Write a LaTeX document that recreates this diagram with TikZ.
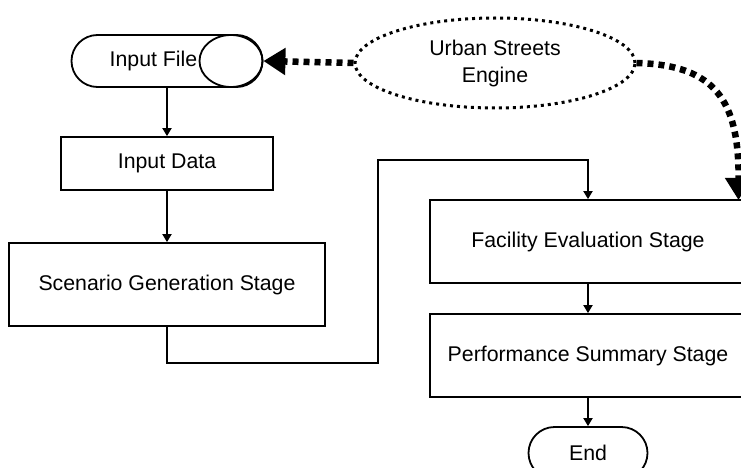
\documentclass[tikz,border=0pt]{standalone}
\usepackage{fontspec}
\setmainfont{Liberation Sans}
\usetikzlibrary{shapes.misc,shapes.geometric,arrows.meta}

\begin{document}
\begin{tikzpicture}[x=1pt,y=-1pt,
  every node/.style={font=\fontsize{21.3}{27}\selectfont, inner sep=0pt},
  procbox/.style={draw, line width=1.8pt, rectangle},
  terminal/.style={draw, line width=1.8pt, rounded rectangle, minimum height=52pt},
  flow/.style={line width=1.8pt, -{Triangle[length=8pt,width=9pt]}},
  link/.style={line width=6.5pt, dash pattern=on 6pt off 5pt, -{Triangle[length=22pt,width=26pt]}},
  enginebox/.style={draw, ellipse, line width=3pt, dash pattern=on 3pt off 4pt,
    minimum width=280pt, minimum height=90pt, align=center}
]
\useasboundingbox (0,0) rectangle (741,468);
\clip (0,0) rectangle (741,468);
\fill[white] (0,0) rectangle (741,468);

% left column
\node[terminal, minimum width=191pt] (infile) at (167,61) {};
\node[draw, line width=1.8pt, ellipse, minimum width=63pt, minimum height=52pt] (infileend) at (231,61) {};
\node (infiletext) at (153.5,61) {Input File};
\node[procbox, minimum width=212pt, minimum height=53pt] (indata) at (167,163.5) {Input Data};
\node[procbox, minimum width=316pt, minimum height=83pt] (scen) at (167,284.5) {Scenario Generation Stage};

% right column
\node[procbox, minimum width=316pt, minimum height=83pt] (facil) at (588,241.5) {Facility Evaluation Stage};
\node[procbox, minimum width=316pt, minimum height=83pt] (perf) at (588,355.5) {Performance Summary Stage};
\node[terminal, minimum width=119pt] (endn) at (588,453) {End};

% engine
\node[enginebox] (engine) at (495,63) {Urban Streets\\Engine};

% flow connectors
\coordinate (j1) at (378,363);
\coordinate (j2) at (378,160);
\draw[flow] (infile.south) -- (indata.north);
\draw[flow] (indata.south) -- (scen.north);
\draw[flow] (scen.south) |- (j1) -- (j2) -| (facil.north);
\draw[flow] (facil.south) -- (perf.north);
\draw[flow] (perf.south) -- (endn.north);

% engine links
\coordinate (ftop) at (738.5,200);
\draw[link] (engine.west) -- (infile.east);
\draw[link] (engine.east) .. controls (715,65) and (739,100) .. (ftop);
\end{tikzpicture}
\end{document}
